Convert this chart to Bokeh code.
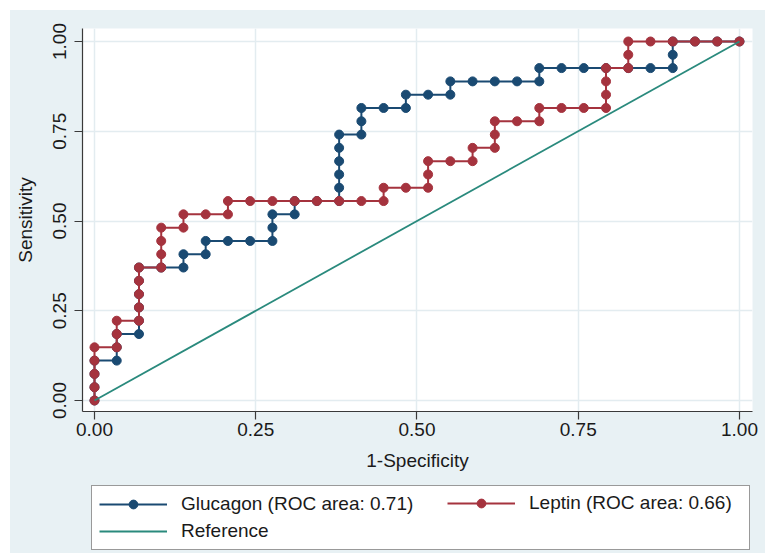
from bokeh.plotting import figure
from bokeh.layouts import column
from bokeh.models import Legend, LegendItem, FixedTicker, Range1d
from bokeh.embed import file_html
from bokeh.resources import INLINE

# ---- data (ROC points as counts of false/true positives) ----
n_neg = 29
n_pos = 27

glucagon_fp = [0, 0, 0, 0, 1, 1, 1, 2, 2, 2, 2, 2, 2, 3, 4, 4, 5, 5, 6, 7, 8, 8, 8, 9, 9, 10,
               11, 11, 11, 11, 11, 11, 12, 12, 12, 13, 14, 14, 15, 16, 16, 17, 18, 19, 20, 20,
               21, 22, 23, 24, 25, 26, 26, 26, 27, 28, 29]
glucagon_tp = [0, 1, 2, 3, 3, 4, 5, 5, 6, 7, 8, 9, 10, 10, 10, 11, 11, 12, 12, 12, 12, 13, 14, 14,
               15, 15, 15, 16, 17, 18, 19, 20, 20, 21, 22, 22, 22, 23, 23, 23, 24, 24, 24, 24,
               24, 25, 25, 25, 25, 25, 25, 25, 26, 27, 27, 27, 27]

leptin_fp = [0, 0, 0, 0, 0, 1, 1, 1, 2, 2, 2, 2, 2, 3, 3, 3, 3, 4, 4, 5, 6, 6, 7, 8, 9, 10, 11,
             12, 13, 13, 14, 15, 15, 15, 16, 17, 17, 18, 18, 18, 19, 20, 20, 21, 22, 23, 23,
             23, 23, 24, 24, 24, 25, 26, 27, 28, 29]
leptin_tp = [0, 1, 2, 3, 4, 4, 5, 6, 6, 7, 8, 9, 10, 10, 11, 12, 13, 13, 14, 14, 14, 15, 15, 15,
             15, 15, 15, 15, 15, 16, 16, 16, 17, 18, 18, 18, 19, 19, 20, 21, 21, 21, 22, 22,
             22, 22, 23, 24, 25, 25, 26, 27, 27, 27, 27, 27, 27]

reference_x = [0.0, 1.0]
reference_y = [0.0, 1.0]

tick_values = [0.0, 0.25, 0.5, 0.75, 1.0]
tick_labels = ["0.00", "0.25", "0.50", "0.75", "1.00"]

glucagon_label = "Glucagon (ROC area: 0.71)"
leptin_label = "Leptin (ROC area: 0.66)"
reference_label = "Reference"
x_title = "1-Specificity"
y_title = "Sensitivity"

glucagon_x = [v / n_neg for v in glucagon_fp]
glucagon_y = [v / n_pos for v in glucagon_tp]
leptin_x = [v / n_neg for v in leptin_fp]
leptin_y = [v / n_pos for v in leptin_tp]

# ---- style ----
FONT = "Liberation Sans"
BLUE = "#1a4a72"
RED = "#a5333e"
TEAL = "#2a8a7d"
BG = "#e8f1f4"
GRID = "#e3ecf0"
AXIS = "#3a3a3a"
TXT = "#1a1a1a"

p = figure(width=755, height=470,
           x_range=Range1d(-0.0186, 1.0202), y_range=Range1d(-0.0306, 1.0362),
           output_backend="svg", toolbar_location=None,
           min_border_left=72, min_border_right=13, min_border_top=18, min_border_bottom=69)
p.background_fill_color = "white"
p.border_fill_color = BG
p.outline_line_color = None

for ax in (p.xaxis[0], p.yaxis[0]):
    ax.ticker = FixedTicker(ticks=tick_values)
    ax.major_label_overrides = {v: s for v, s in zip(tick_values, tick_labels)}
    ax.axis_line_color = AXIS
    ax.axis_line_width = 1.2
    ax.major_tick_line_color = AXIS
    ax.major_tick_line_width = 1.2
    ax.major_tick_out = 8
    ax.major_tick_in = 0
    ax.minor_tick_out = 0
    ax.minor_tick_in = 0
    ax.major_label_text_font = FONT
    ax.major_label_text_font_size = "19px"
    ax.major_label_text_color = TXT
    ax.axis_label_text_font = FONT
    ax.axis_label_text_font_size = "19px"
    ax.axis_label_text_font_style = "normal"
    ax.axis_label_text_color = TXT

p.xaxis.axis_label = x_title
p.yaxis.axis_label = y_title
p.xaxis.major_label_standoff = 3
p.xaxis.axis_label_standoff = 11
p.yaxis.major_label_orientation = "vertical"
p.yaxis.major_label_standoff = 8
p.yaxis.axis_label_standoff = 15

for g in (p.xgrid[0], p.ygrid[0]):
    g.ticker = FixedTicker(ticks=tick_values)
    g.grid_line_color = GRID
    g.grid_line_width = 1.5

# ---- glyphs ----
p.line(glucagon_x, glucagon_y, line_color=BLUE, line_width=2)
p.scatter(glucagon_x, glucagon_y, size=9, fill_color=BLUE, line_color=BLUE)
p.line(leptin_x, leptin_y, line_color=RED, line_width=2)
p.scatter(leptin_x, leptin_y, size=9, fill_color=RED, line_color=RED)
p.line(reference_x, reference_y, line_color=TEAL, line_width=1.8)

# ---- legend strip (separate panel under the plot; its view range is empty,
#      so its key renderers only supply the legend glyphs) ----
q = figure(width=755, height=73,
           x_range=Range1d(2, 3), y_range=Range1d(2, 3),
           output_backend="svg", toolbar_location=None,
           min_border_left=0, min_border_right=0, min_border_top=0, min_border_bottom=0)
q.axis.visible = False
q.grid.visible = False
q.background_fill_color = None
q.border_fill_color = None
q.outline_line_color = None

kg_line = q.line(glucagon_x, glucagon_y, line_color=BLUE, line_width=2)
kg_pts = q.scatter(glucagon_x, glucagon_y, size=8, fill_color=BLUE, line_color=BLUE)
kl_line = q.line(leptin_x, leptin_y, line_color=RED, line_width=2)
kl_pts = q.scatter(leptin_x, leptin_y, size=8, fill_color=RED, line_color=RED)
kr_line = q.line(reference_x, reference_y, line_color=TEAL, line_width=1.8)

common = dict(glyph_width=68, glyph_height=22, label_height=22, label_standoff=14,
              padding=7, spacing=5, margin=0, label_text_font=FONT,
              label_text_font_size="19px", label_text_color=TXT)
leg1 = Legend(items=[LegendItem(label=glucagon_label, renderers=[kg_line, kg_pts]),
                     LegendItem(label=reference_label, renderers=[kr_line])],
              location=(9, 3), label_width=561,
              border_line_color="#333333", border_line_width=1.2,
              background_fill_color="white", background_fill_alpha=1.0, **common)
leg2 = Legend(items=[LegendItem(label=leptin_label, renderers=[kl_line, kl_pts])],
              location=(365, 39), label_width=150,
              border_line_color=None, background_fill_alpha=0.0, **common)
q.add_layout(leg1, "center")
q.add_layout(leg2, "center")

layout = column(p, q, spacing=0, margin=(10, 0, 0, 10),
                styles={"background-color": BG})
open("out.html", "w").write(file_html(layout, INLINE))
